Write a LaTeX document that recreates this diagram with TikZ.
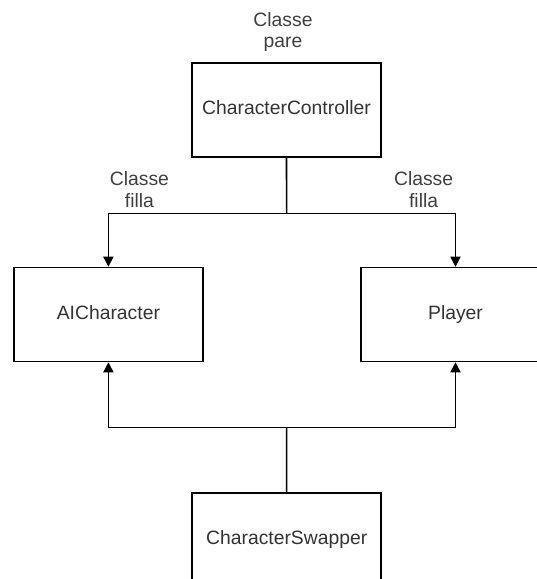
\documentclass[tikz,border=0pt]{standalone}
\usepackage{fontspec}
\setmainfont{Liberation Sans}
\usetikzlibrary{arrows.meta}

\begin{document}
\begin{tikzpicture}[x=0.02cm, y=-0.02cm,
    box/.style={draw, line width=0.9pt, minimum width=3.78cm, minimum height=1.88cm,
                inner sep=0pt, text height=8pt, text depth=2.4pt,
                text=black!80, font=\fontsize{11}{13}\selectfont},
    lbl/.style={align=center, text=black!75, inner sep=0pt, font=\fontsize{11}{12.5}\selectfont},
    arr/.style={line width=0.9pt, -{Triangle[length=5.8pt,width=5.8pt]}}]
                \clip (0,0) rectangle (537,579);
                \fill[white] (0,0) rectangle (537,579);

                \node[box] (ctrl)    at (286.5,110)   {CharacterController};
                \node[box] (ai)      at (108.4,314.5) {AICharacter};
                \node[box] (player)  at (455.5,314.5) {Player};
                \node[box] (swapper) at (286.7,540)   {CharacterSwapper};

                \node[lbl] (pare)   at (283,32)    {Classe\\pare};
                \node[lbl] (filla1) at (139.4,190) {Classe\\filla};
                \node[lbl] (filla2) at (423.6,190) {Classe\\filla};

                % herencia
                \coordinate (up) at (286.6,213.4);
                \draw[line width=0.9pt] (ctrl.south) -- (up);
                \draw[arr] (up) -| (ai.north);
                \draw[arr] (up) -| (player.north);

                % swapper
                \coordinate (down) at (286.6,427.7);
                \draw[line width=0.9pt] (swapper.north) -- (down);
                \draw[arr] (down) -| (ai.south);
                \draw[arr] (down) -| (player.south);
\end{tikzpicture}
\end{document}
